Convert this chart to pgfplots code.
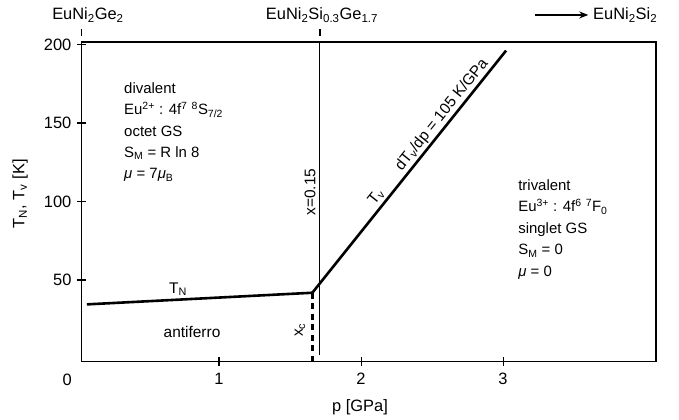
\documentclass[border=0pt]{standalone}
\usepackage{pgfplots}
\pgfplotsset{compat=1.18}
\usepackage{fontspec}
\setmainfont{Liberation Sans}
\usetikzlibrary{arrows.meta}
\begin{document}
\begin{tikzpicture}
\begin{axis}[
  width=574.6bp, height=319.4bp, scale only axis,
  xmin=0.031, xmax=4.077, ymin=-2, ymax=201.4,
  xtick={1,2,3}, ytick={50,100,150,200},
  xtick pos=bottom, ytick pos=left,
  tick align=center, major tick length=9bp,
  /pgf/number format/assume math mode=true,
  tick label style={font=\fontsize{16.5}{19}\selectfont},
  xticklabel style={yshift=-3bp},
  yticklabel style={xshift=-2bp},
  axis line style={line width=1.6bp},
  every tick/.style={line width=1.1bp, black},
  clip=false,
]
% T_N line
\addplot[line width=2.6bp, black] coordinates {(0.070,34.5) (1.657,41.9)};
% T_v line
\addplot[line width=2.6bp, black] coordinates {(1.657,41.9) (3.021,196.1)};
% dashed x_c
\addplot[line width=2.4bp, black, dash pattern=on 6bp off 4.5bp] coordinates {(1.657,41.9) (1.657,-2)};
% thin x=0.15 line
\addplot[line width=1.1bp, black] coordinates {(1.706,2.2) (1.706,201.4)};
% small ticks above top
\addplot[line width=1.1bp, black] coordinates {(0.031,205.4) (0.031,209.9)};
\addplot[line width=1.1bp, black] coordinates {(1.711,205.4) (1.711,209.9)};
% arrow
\addplot[line width=1.2bp, black, -{Stealth[length=9bp,width=7bp]}] coordinates {(3.225,218.8) (3.60,218.8)};

\node[font=\fontsize{16.5}{19}\selectfont] at (axis cs:0.077,218.8) {EuNi\textsubscript{2}Ge\textsubscript{2}};
\node[font=\fontsize{16.5}{19}\selectfont] at (axis cs:1.725,218.8) {EuNi\textsubscript{2}Si\textsubscript{0.3}Ge\textsubscript{1.7}};
\node[font=\fontsize{16.5}{19}\selectfont] at (axis cs:3.86,218.8) {EuNi\textsubscript{2}Si\textsubscript{2}};

\node[font=\fontsize{16.5}{19}\selectfont] at (axis cs:-0.07,-13.7) {0};
\node[font=\fontsize{16.5}{19}\selectfont] at (axis cs:1.993,-30.9) {p [GPa]};
\node[font=\fontsize{16.5}{19}\selectfont, rotate=90] at (axis cs:-0.401,105) {T\textsubscript{N}, T\textsubscript{v} [K]};

\node[font=\fontsize{15.5}{18}\selectfont] at (axis cs:0.711,44.3) {T\textsubscript{N}};
\node[font=\fontsize{15.5}{18}\selectfont] at (axis cs:0.810,16.9) {antiferro};
\node[font=\fontsize{15.5}{18}\selectfont, rotate=90] at (axis cs:1.641,106.1) {x=0.15};
\node[font=\fontsize{15.5}{18}\selectfont, rotate=90] at (axis cs:1.570,18.2) {x\textsubscript{c}};
\node[font=\fontsize{15.5}{18}\selectfont, rotate=51.3] at (axis cs:2.106,102.9) {T\textsubscript{v}};
\node[font=\fontsize{15.5}{18}\selectfont, rotate=51.3] at (axis cs:2.570,155.1) {dT\textsubscript{v}/dp = 105 K/GPa};

\node[font=\fontsize{15}{21.5}\selectfont, anchor=north west, align=left, inner sep=0pt] at (axis cs:0.331,176) {divalent\\
Eu\textsuperscript{2+} : 4f\textsuperscript{7} \textsuperscript{8}S\textsubscript{7/2}\\
octet GS\\
S\textsubscript{M} = R ln 8\\
\textit{μ} = 7\textit{μ}\textsubscript{B}};

\node[font=\fontsize{15}{21.5}\selectfont, anchor=north west, align=left, inner sep=0pt] at (axis cs:3.106,114) {trivalent\\
Eu\textsuperscript{3+} : 4f\textsuperscript{6} \textsuperscript{7}F\textsubscript{0}\\
singlet GS\\
S\textsubscript{M} = 0\\
\textit{μ} = 0};

\coordinate (BL) at (rel axis cs:-0.1417,-0.1825);
\coordinate (TR) at (rel axis cs:1.040,1.1324);
\end{axis}
\pgfresetboundingbox
\path[use as bounding box] (BL) rectangle (TR);
\end{tikzpicture}
\end{document}
